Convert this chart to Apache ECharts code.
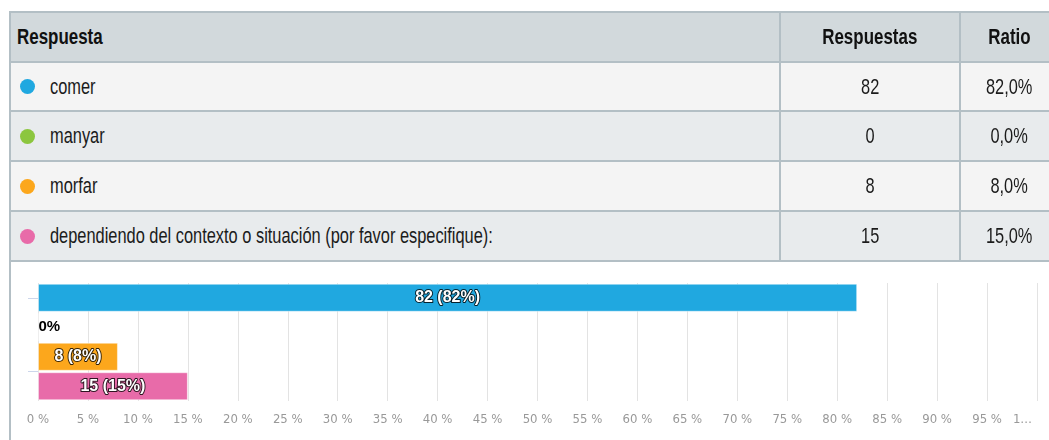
<!DOCTYPE html>
<html>
<head>
<meta charset="utf-8">
<script src="https://cdn.jsdelivr.net/npm/echarts@6/dist/echarts.min.js"></script>
<style>
body { margin: 0; width: 1049px; height: 440px; overflow: hidden; background: #fff; font-family: "Liberation Sans", sans-serif; color: #1b1b1b; }
#chart1 { position: absolute; left: 0; top: 0; width: 1049px; height: 440px; }
#tabla { position: absolute; left: 9px; top: 11px; border-top: 2px solid #b3bfc5; border-left: 2px solid #b3bfc5; z-index: 2; }
#caja { position: absolute; left: 9px; top: 262px; width: 2px; height: 178px; background: #b3bfc5; z-index: 2; }
.fila { display: flex; }
.celda { box-sizing: border-box; border-right: 2px solid #b3bfc5; border-bottom: 2px solid #b3bfc5; display: flex; align-items: center; font-size: 22px; white-space: nowrap; }
.centro { justify-content: center; }
.cab { background: #d2d9dc; font-weight: bold; color: #111; }
.punto { width: 15px; height: 15px; border-radius: 50%; margin-left: 9px; margin-right: 15px; flex: none; }
/* letra estrecha: Liberation Sans comprimida */
.t { display: inline-block; transform: scaleX(0.745); transform-origin: left center; }
.cab .t { transform: scaleX(0.77); }
.centro .t { transform-origin: center center; }
</style>
</head>
<body>
<div id="chart1"></div>
<div id="tabla"></div>
<div id="caja"></div>
<script>
//datos de la encuesta
var categorias = ["comer", "manyar", "morfar", "dependiendo del contexto o situación (por favor especifique):"];
var respuestas = [82, 0, 8, 15];
var ratios = [82.0, 0.0, 8.0, 15.0];
var colores = ["#20a8e0", "#8cc63f", "#fca71c", "#e86ba9"];
var cabecera = ["Respuesta", "Respuestas", "Ratio"];

//eje horizontal en %
var ejeMin = 0;
var ejeMax = 100;
var ejePaso = 5;

/******************** tabla ********************/
var anchos = [770, 180, 98];
var altos = [50, 49, 50, 50, 50];
var fondos = ["#f4f4f4", "#e8ebed"];

function formatoRatio(v) {
	return v.toFixed(1).replace(".", ",") + "%";
}

function txt(s) {
	return '<span class="t">' + s + '</span>';
}

var tabla = document.getElementById("tabla");
var html = '<div class="fila">';
for (let j = 0; j < cabecera.length; j++) {
	html += '<div class="celda cab' + (j > 0 ? ' centro' : '') + '" style="width:' + anchos[j] + 'px;height:' + altos[0] + 'px;' + (j === 0 ? 'padding-left:6px;' : '') + '">' + txt(cabecera[j]) + '</div>';
}
html += '</div>';

for (let i = 0; i < categorias.length; i++) {
	var bg = fondos[i % 2];
	var h = altos[i + 1];
	html += '<div class="fila">';
	html += '<div class="celda" style="width:' + anchos[0] + 'px;height:' + h + 'px;background:' + bg + '"><span class="punto" style="background:' + colores[i] + '"></span>' + txt(categorias[i]) + '</div>';
	html += '<div class="celda centro" style="width:' + anchos[1] + 'px;height:' + h + 'px;background:' + bg + '">' + txt(respuestas[i]) + '</div>';
	html += '<div class="celda centro" style="width:' + anchos[2] + 'px;height:' + h + 'px;background:' + bg + '">' + txt(formatoRatio(ratios[i])) + '</div>';
	html += '</div>';
}
tabla.innerHTML = html;

/******************** gráfico ********************/
var chart = echarts.init(document.getElementById("chart1"));

var fuenteEje = "DejaVu Sans Condensed";

var datosBarras = [];
for (let i = 0; i < ratios.length; i++) {
	var item = {
		value: ratios[i],
		itemStyle: { color: colores[i] }
	};
	//sin respuestas: solo el porcentaje en negro
	if (respuestas[i] === 0) {
		item.label = {
			position: "right",
			distance: 0,
			color: "#000",
			textBorderWidth: 0,
			fontSize: 15,
			formatter: function () { return "0%"; }
		};
	}
	datosBarras.push(item);
}

var option = {
	animation: false,
	grid: { left: 38, right: 12, top: 283, bottom: 39 },
	xAxis: [{
		type: "value",
		min: ejeMin,
		max: ejeMax,
		interval: ejePaso,
		axisLine: { show: false },
		axisTick: { show: false },
		splitLine: { lineStyle: { color: "#e3e3e3", width: 1 } },
		axisLabel: {
			color: "#999",
			fontFamily: fuenteEje,
			fontSize: 13,
			margin: 12,
			formatter: function (v) {
				if (v === ejeMax) return "{t|1…}";
				return v + " %";
			},
			rich: {
				t: { color: "#999", fontFamily: fuenteEje, fontSize: 13, padding: [0, 29, 0, 0] }
			}
		}
	}],
	yAxis: [{
		type: "category",
		data: categorias,
		inverse: true,
		axisLine: { show: false },
		axisLabel: { show: false },
		axisTick: { show: false },
		splitLine: { show: false }
	}, {
		//solo para las marcas del eje (centro de "comer" y borde morfar/dependiendo)
		type: "value",
		min: -0.5,
		max: categorias.length - 0.5,
		inverse: true,
		position: "left",
		axisLine: { show: false },
		axisLabel: { show: false },
		splitLine: { show: false },
		axisTick: {
			show: true,
			length: 10,
			customValues: [0, 2.5],
			lineStyle: { color: "#ccd6eb", width: 1 }
		}
	}],
	series: [{
		type: "bar",
		yAxisIndex: 0,
		barCategoryGap: "5%",
		data: datosBarras,
		itemStyle: { borderColor: "rgba(255,255,255,0.45)", borderWidth: 1 },
		label: {
			show: true,
			position: "inside",
			fontFamily: "Liberation Sans",
			fontWeight: "bold",
			fontSize: 16,
			color: "#fff",
			textBorderColor: "rgba(0,0,0,0.8)",
			textBorderWidth: 2,
			formatter: function (p) {
				return respuestas[p.dataIndex] + " (" + Math.round(ratios[p.dataIndex]) + "%)";
			}
		}
	}]
};

chart.setOption(option);
</script>
</body>
</html>
